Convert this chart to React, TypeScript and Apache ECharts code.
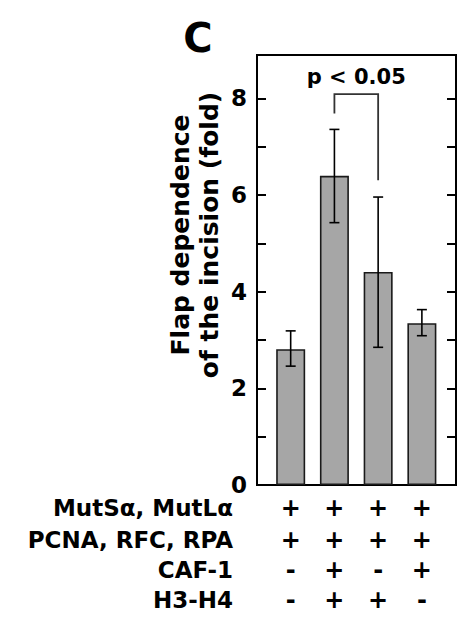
import React, { useEffect, useRef } from 'react';
import * as echarts from 'echarts';

// ---- data ----
const conditionCount = [0, 1, 2, 3];
const foldMeans = [2.81, 6.4, 4.41, 3.35];
const errLow = [2.46, 5.43, 2.85, 3.09];
const errHigh = [3.19, 7.36, 5.96, 3.63];
const rowLabels = ['MutSα, MutLα', 'PCNA, RFC, RPA', 'CAF-1', 'H3-H4'];
const rowMutS = ['+', '+', '+', '+'];
const rowPCNA = ['+', '+', '+', '+'];
const rowCAF = ['-', '+', '-', '+'];
const rowH3H4 = ['-', '+', '+', '-'];
const tableRows = [rowMutS, rowPCNA, rowCAF, rowH3H4];
const bracketFrom = 1;
const bracketTo = 2;
const bracketTop = 8.09;
const bracketLegEnds = [7.69, 6.31];
const pLabel = 'p < 0.05';
const yTitleLines = ['Flap dependence', 'of the incision (fold)'];
const panelLetter = 'C';

const FONT = '"DejaVu Sans", "Liberation Sans", sans-serif';
const ROW_OFFSETS = [23, 55, 85, 115];

export default function App() {
  const ref = useRef<HTMLDivElement>(null);
  useEffect(() => {
    const chart = echarts.init(ref.current!, null, { renderer: 'svg' });
    const yAxisBase = {
      type: 'value',
      min: 0,
      max: 8.9,
      interval: 1,
      splitLine: { show: false },
      axisLine: { show: true, onZero: false, lineStyle: { color: '#000', width: 2 } },
      axisTick: { show: true, inside: true, length: 9, lineStyle: { color: '#000', width: 2 } },
    };
    const option: any = {
      animation: false,
      backgroundColor: '#fff',
      grid: {
        left: 257,
        right: 10,
        top: 55,
        bottom: 140,
        show: true,
        borderColor: '#000',
        borderWidth: 2,
        backgroundColor: 'transparent',
      },
      xAxis: {
        type: 'value',
        min: -0.77,
        max: 3.78,
        axisLine: { show: true, onZero: false, lineStyle: { color: '#000', width: 2 } },
        axisTick: { show: false },
        axisLabel: { show: false },
        splitLine: { show: false },
      },
      yAxis: [
        {
          ...yAxisBase,
          position: 'left',
          axisLabel: {
            show: true,
            margin: 10,
            color: '#000',
            fontFamily: FONT,
            fontWeight: 'bold',
            fontSize: 23,
            formatter: (v: number) =>
              Math.abs(v - Math.round(v)) < 1e-6 && Math.round(v) % 2 === 0 ? String(Math.round(v)) : '',
          },
        },
        { ...yAxisBase, position: 'right', axisLabel: { show: false } },
      ],
      graphic: [
        {
          type: 'text',
          x: 198,
          y: 38,
          style: { text: panelLetter, font: `bold 40px ${FONT}`, fill: '#000', textAlign: 'center', textVerticalAlign: 'middle' },
        },
        ...yTitleLines.map((t, i) => ({
          type: 'text',
          x: 180 + i * 29,
          y: 235,
          rotation: Math.PI / 2,
          style: { text: t, font: `bold 25px ${FONT}`, fill: '#000', textAlign: 'center', textVerticalAlign: 'middle' },
        })),
        ...rowLabels.map((t, r) => ({
          type: 'text',
          x: 233,
          y: 485 + ROW_OFFSETS[r],
          style: { text: t, font: `bold 23px ${FONT}`, fill: '#000', textAlign: 'right', textVerticalAlign: 'middle' },
        })),
      ],
      series: [
        {
          type: 'bar',
          z: 2,
          data: foldMeans.map((v, i) => [conditionCount[i], v]),
          barWidth: 29,
          itemStyle: { color: '#a6a6a6', borderColor: '#1a1a1a', borderWidth: 1.6 },
        },
        {
          type: 'custom',
          z: 5,
          data: conditionCount.map((c, i) => [c, errLow[i], errHigh[i]]),
          renderItem: (params: any, api: any) => {
            const x = api.value(0);
            const lo = api.coord([x, api.value(1)]);
            const hi = api.coord([x, api.value(2)]);
            const hw = 5;
            const st = { stroke: '#000', lineWidth: 1.6 };
            return {
              type: 'group',
              children: [
                { type: 'line', shape: { x1: lo[0], y1: lo[1], x2: hi[0], y2: hi[1] }, style: st },
                { type: 'line', shape: { x1: lo[0] - hw, y1: lo[1], x2: lo[0] + hw, y2: lo[1] }, style: st },
                { type: 'line', shape: { x1: hi[0] - hw, y1: hi[1], x2: hi[0] + hw, y2: hi[1] }, style: st },
              ],
            };
          },
        },
        {
          type: 'custom',
          z: 5,
          data: [[bracketFrom, bracketTo, bracketTop, bracketLegEnds[0], bracketLegEnds[1]]],
          renderItem: (params: any, api: any) => {
            const a = api.value(0);
            const b = api.value(1);
            const top = api.value(2);
            const p1 = api.coord([a, api.value(3)]);
            const p2 = api.coord([a, top]);
            const p3 = api.coord([b, top]);
            const p4 = api.coord([b, api.value(4)]);
            return {
              type: 'group',
              children: [
                { type: 'polyline', shape: { points: [p1, p2, p3, p4] }, style: { stroke: '#333', lineWidth: 1.8, fill: 'none' } },
                {
                  type: 'text',
                  x: (p2[0] + p3[0]) / 2,
                  y: p2[1] - 17,
                  style: { text: pLabel, font: `bold 21px ${FONT}`, fill: '#000', textAlign: 'center', textVerticalAlign: 'middle' },
                },
              ],
            };
          },
        },
        {
          type: 'custom',
          z: 5,
          data: conditionCount.map((c) => [c]),
          renderItem: (params: any, api: any) => {
            const i = params.dataIndex;
            const p = api.coord([api.value(0), 0]);
            return {
              type: 'group',
              children: tableRows.map((row, r) => ({
                type: 'text',
                x: p[0],
                y: p[1] + ROW_OFFSETS[r],
                style: { text: row[i], font: `bold 24px ${FONT}`, fill: '#000', textAlign: 'center', textVerticalAlign: 'middle' },
              })),
            };
          },
        },
      ],
    };
    chart.setOption(option);
    return () => chart.dispose();
  }, []);
  return <div ref={ref} style={{ position: 'fixed', left: 0, top: 0, width: 466, height: 625, background: '#fff' }} />;
}
